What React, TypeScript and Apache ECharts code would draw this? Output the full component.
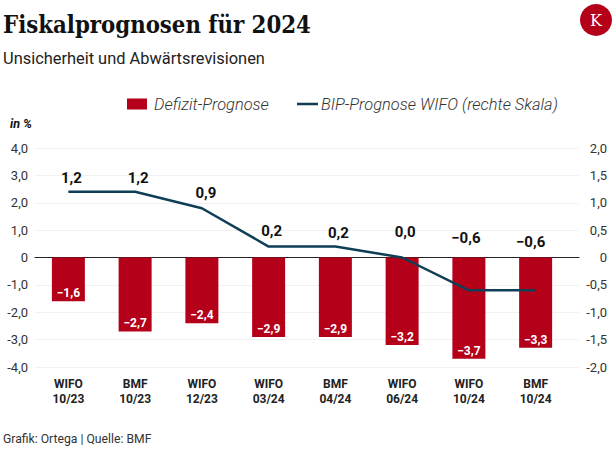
import React, { useEffect, useRef } from "react";
import * as echarts from "echarts";

const categories = ["WIFO\n10/23", "BMF\n10/23", "WIFO\n12/23", "WIFO\n03/24", "BMF\n04/24", "WIFO\n06/24", "WIFO\n10/24", "BMF\n10/24"];
const deficit = [-1.6, -2.7, -2.4, -2.9, -2.9, -3.2, -3.7, -3.3];
const gdp = [1.2, 1.2, 0.9, 0.2, 0.2, 0.0, -0.6, -0.6];
const gdpLabelLift = [6, 6, 8, 8, 6, 18, 45, 41];
const gdpLabelShift = [3, 3, 4, 3, 3, 3, -3, -5];

const fmtTick = (v: number) => (v === 0 ? "0" : v.toFixed(1).replace(".", ","));
const fmtVal = (v: number) => (v < 0 ? "\u2212" : "") + Math.abs(v).toFixed(1).replace(".", ",");

const RED = "#b5001a";
const NAVY = "#0f3f56";
const SANS = "Roboto";

export default function App() {
  const ref = useRef<HTMLDivElement>(null);
  useEffect(() => {
    const chart = echarts.init(ref.current!, undefined, { renderer: "svg" });
    const tick = { fontFamily: SANS, fontSize: 13, color: "#333" };
    const legendText = { fontFamily: SANS, fontStyle: "italic", fontWeight: 300, fontSize: 16.4, color: "#333" };
    chart.setOption({
      animation: false,
      backgroundColor: "#fff",
      title: [
        { text: "Fiskalprognosen für 2024", left: 3, top: 13, padding: 0, textStyle: { fontFamily: "DejaVu Serif Condensed", fontWeight: "bold", fontSize: 23.7, color: "#111" } },
        { text: "Unsicherheit und Abwärtsrevisionen", left: 3, top: 50, padding: 0, textStyle: { fontFamily: SANS, fontWeight: "normal", fontSize: 16.4, color: "#222" } },
        { text: "in %", left: 10, top: 117, padding: 0, textStyle: { fontFamily: SANS, fontWeight: "bold", fontStyle: "italic", fontSize: 12.5, color: "#111" } },
        { text: "Grafik: Ortega | Quelle: BMF", left: 3, top: 433, padding: 0, textStyle: { fontFamily: SANS, fontWeight: "normal", fontSize: 12.2, color: "#333" } },
      ],
      legend: [
        {
          data: [{ name: "Defizit-Prognose", icon: "rect" }], left: 127, top: 96, padding: 0, itemWidth: 20, itemHeight: 11, itemGap: 0,
          textStyle: { ...legendText, padding: [0, 0, 0, 2] },
        },
        {
          data: [{ name: "BIP-Prognose WIFO (rechte Skala)", icon: "rect" }], left: 297, top: 96, padding: 0, itemWidth: 21, itemHeight: 2.5, itemGap: 0,
          textStyle: { ...legendText, padding: [0, 0, 0, -2] },
        },
      ],
      grid: [
        { left: 35, right: 37, top: 148, bottom: 86 },
        { left: 35, right: 47, top: 148, bottom: 86 },
      ],
      xAxis: [
        {
          gridIndex: 0, type: "category", data: categories, position: "bottom",
          axisLine: { show: true, onZero: true, lineStyle: { color: "#222", width: 1 } }, axisTick: { show: false }, axisLabel: { show: false },
        },
        {
          gridIndex: 1, type: "category", data: categories, position: "bottom",
          axisLine: { show: false, onZero: false }, axisTick: { show: false },
          axisLabel: { fontFamily: SANS, fontWeight: "bold", fontSize: 12, color: "#222", lineHeight: 15, margin: 9, interval: 0 },
        },
      ],
      yAxis: [
        {
          gridIndex: 0, type: "value", min: -4, max: 4, interval: 1, axisLine: { show: false }, axisTick: { show: false },
          axisLabel: { ...tick, margin: 7, formatter: fmtTick }, splitLine: { lineStyle: { color: "#f1f1f1", width: 1 } },
        },
        {
          gridIndex: 0, type: "value", min: -2, max: 2, interval: 0.5, position: "right", axisLine: { show: false }, axisTick: { show: false },
          axisLabel: { ...tick, margin: 28, align: "right", formatter: fmtTick }, splitLine: { show: false },
        },
        { gridIndex: 1, type: "value", min: -4, max: 4, interval: 1, show: false },
        { gridIndex: 1, type: "value", min: -2, max: 2, interval: 0.5, position: "right", show: false },
      ],
      series: [
        {
          name: "Defizit-Prognose", type: "bar", xAxisIndex: 1, yAxisIndex: 2, data: deficit, barWidth: 33, itemStyle: { color: RED },
          label: { show: true, position: "insideBottom", distance: 2, fontFamily: SANS, fontWeight: "bold", fontSize: 12, color: "#fff", formatter: (p: any) => fmtVal(p.value) },
        },
        {
          name: "BIP-Prognose WIFO (rechte Skala)", type: "line", xAxisIndex: 1, yAxisIndex: 3, symbol: "circle", symbolSize: 0.1, showSymbol: true, showAllSymbol: true, z: 5,
          lineStyle: { color: NAVY, width: 2.5 }, itemStyle: { color: NAVY },
          data: gdp.map((v, i) => ({
            value: v,
            label: {
              show: true, position: "top", offset: [gdpLabelShift[i], -gdpLabelLift[i] + 5], distance: 5,
              fontFamily: SANS, fontWeight: "bold", fontSize: 15, color: "#111", formatter: () => fmtVal(v),
            },
          })),
        },
      ],
      graphic: [
        { type: "circle", shape: { cx: 596, cy: 20, r: 16 }, style: { fill: RED } },
        { type: "text", x: 596, y: 20, style: { text: "K", fill: "#fff", fontFamily: "DejaVu Serif", fontSize: 16, align: "center", verticalAlign: "middle" } },
      ],
    });
    return () => chart.dispose();
  }, []);
  return <div ref={ref} style={{ position: "fixed", left: 0, top: 0, width: 616, height: 453 }} />;
}
